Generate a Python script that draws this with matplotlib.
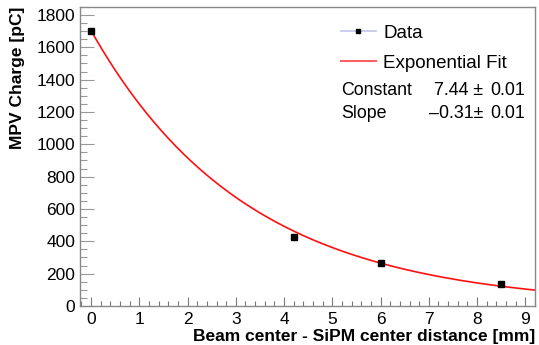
import numpy as np
import matplotlib
matplotlib.use("Agg")
import matplotlib.pyplot as plt
from matplotlib.lines import Line2D
from matplotlib.ticker import MultipleLocator

plt.rcParams['font.family'] = ['Liberation Sans', 'DejaVu Sans']

# Data
distance_mm = [0.0, 4.2, 6.0, 8.5]
mpv_charge_pc = [1700, 428, 268, 138]

# Exponential fit parameters: exp(constant + slope * x)
fit_constant = 7.44
fit_constant_err = 0.01
fit_slope = -0.31
fit_slope_err = 0.01

x_ticks = [0, 1, 2, 3, 4, 5, 6, 7, 8, 9]
y_ticks = [0, 200, 400, 600, 800, 1000, 1200, 1400, 1600, 1800]

W, H = 539, 345
fig = plt.figure(figsize=(W / 100, H / 100), dpi=100)
ax = fig.add_axes([80 / W, (H - 306) / H, (535 - 80) / W, (306 - 7) / H])

xmin, xmax = -0.23, 9.2
ymin, ymax = 0, 1849
ax.set_xlim(xmin, xmax)
ax.set_ylim(ymin, ymax)

# Fit curve
xf = np.linspace(0, xmax, 300)
yf = np.exp(fit_constant + fit_slope * xf)
ax.plot(xf, yf, color='#ff1010', lw=1.2, zorder=2)

# Data points
ax.plot(distance_mm, mpv_charge_pc, ls='none', marker='s', ms=4.2,
        mfc='black', mec='black', zorder=3)

# Axes styling (ROOT-like)
for s in ax.spines.values():
    s.set_color('#888888')
    s.set_linewidth(1.0)

ax.set_xticks(x_ticks)
ax.set_yticks(y_ticks)
ax.xaxis.set_minor_locator(MultipleLocator(0.2))
ax.yaxis.set_minor_locator(MultipleLocator(50))
ax.tick_params(axis='x', which='major', direction='in', length=6.5, width=0.8,
               color='#777777', labelsize=12.5, pad=4, top=False)
ax.tick_params(axis='x', which='minor', direction='in', length=3.3, width=0.8,
               color='#777777', top=False)
ax.tick_params(axis='y', which='major', direction='in', length=10, width=0.8,
               color='#999999', labelsize=12.5, pad=3.5, right=False)
ax.tick_params(axis='y', which='minor', direction='in', length=5, width=0.8,
               color='#999999', right=False)

ax.set_xlabel('Beam center - SiPM center distance [mm]', fontsize=12.5,
              fontweight='bold', loc='right', labelpad=2)
ax.set_ylabel('MPV Charge [pC]', fontsize=12.5, fontweight='bold',
              loc='top', labelpad=8)

# Legend
handles = [
    Line2D([], [], color='#c8c8ee', lw=1.3, marker='s', ms=3.5,
           mfc='black', mec='black'),
    Line2D([], [], color='#ff6060', lw=1.5),
]
leg = ax.legend(handles, ['Data', 'Exponential Fit'], loc='upper left',
                bbox_to_anchor=((333 - 80) / (535 - 80), 1 - (17 - 7) / (306 - 7)),
                frameon=False, fontsize=13.5, handlelength=1.87,
                handletextpad=0.42, labelspacing=0.68, borderaxespad=0)

# Fit statistics
fig.text(341 / W, 1 - 90 / H, 'Constant', fontsize=12.8, va='center', ha='left')
fig.text(483 / W, 1 - 90 / H, f'{fit_constant:.2f} \u00b1', fontsize=12.8,
         va='center', ha='right')
fig.text(525 / W, 1 - 90 / H, f'{fit_constant_err:.2f}', fontsize=12.8,
         va='center', ha='right')
fig.text(341 / W, 1 - 113 / H, 'Slope', fontsize=12.8, va='center', ha='left')
fig.text(483 / W, 1 - 113 / H, f'\u2013{abs(fit_slope):.2f}\u00b1', fontsize=12.8,
         va='center', ha='right')
fig.text(525 / W, 1 - 113 / H, f'{fit_slope_err:.2f}', fontsize=12.8,
         va='center', ha='right')

fig.savefig('out.png', dpi=100)
